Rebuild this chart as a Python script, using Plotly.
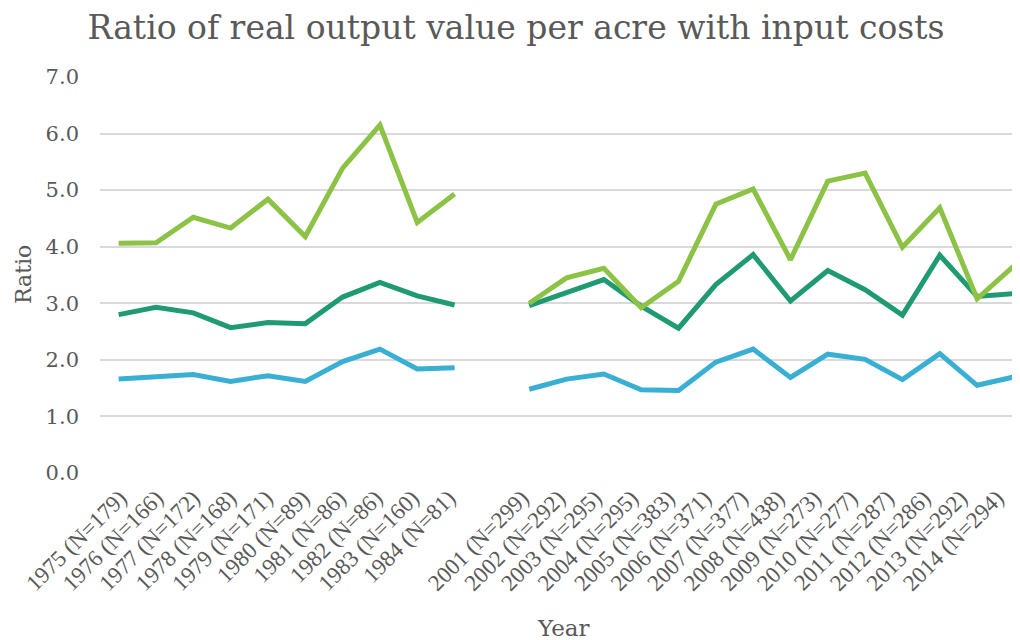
import plotly.graph_objects as go

categories = [
    "1975 (N=179)", "1976 (N=166)", "1977 (N=172)", "1978 (N=168)", "1979 (N=171)",
    "1980 (N=89)", "1981 (N=86)", "1982 (N=86)", "1983 (N=160)", "1984 (N=81)",
    " ",
    "2001 (N=299)", "2002 (N=292)", "2003 (N=295)", "2004 (N=295)", "2005 (N=383)",
    "2006 (N=371)", "2007 (N=377)", "2008 (N=438)", "2009 (N=273)", "2010 (N=277)",
    "2011 (N=287)", "2012 (N=286)", "2013 (N=292)", "2014 (N=294)",
]

upper = [4.06, 4.07, 4.52, 4.33, 4.84, 4.18, 5.39, 6.15, 4.43, 4.93,
         None,
         3.00, 3.45, 3.62, 2.92, 3.39, 4.75, 5.02, 3.77, 5.16, 5.30, 3.99, 4.69, 3.08, 3.67]
middle = [2.80, 2.93, 2.83, 2.57, 2.66, 2.64, 3.11, 3.37, 3.13, 2.97,
          None,
          2.96, 3.19, 3.42, 2.95, 2.56, 3.33, 3.86, 3.04, 3.58, 3.24, 2.79, 3.85, 3.12, 3.17]
lower = [1.66, 1.71, 1.74, 1.62, 1.72, 1.62, 1.97, 2.19, 1.84, 1.86,
         None,
         1.48, 1.66, 1.75, 1.47, 1.46, 1.96, 2.19, 1.69, 2.10, 2.01, 1.65, 2.11, 1.55, 1.70]

series = [
    ("Lower", lower, "#38AFD3"),
    ("Middle", middle, "#1F9A73"),
    ("Upper", upper, "#8CC245"),
]

fig = go.Figure()
for name, vals, color in series:
    fig.add_trace(go.Scatter(
        x=categories, y=vals, name=name, mode="lines",
        line=dict(color=color, width=5, shape="linear"),
        connectgaps=False, showlegend=False,
    ))

# invisible carrier trace for the label axis (labels are packed a bit tighter than the data)
fig.add_trace(go.Scatter(
    x=categories, y=upper, xaxis="x2", mode="lines", opacity=0,
    line=dict(width=0), showlegend=False, hoverinfo="skip",
))

text_color = "#595959"
# page body has an 8px margin, so the figure is drawn 8px in from the top-left
W, H = 1012, 632
L, R, T, B = 92, 0, 69, 167
PW, PH = W - L - R, H - T - B
label_font = dict(family="Liberation Serif", size=23, color=text_color)
fig.update_layout(
    width=W, height=H,
    margin=dict(l=L, r=R, t=T, b=B, autoexpand=False),
    paper_bgcolor="white", plot_bgcolor="white",
    title=dict(
        text="Ratio of real output value per acre with input costs",
        font=dict(family="DejaVu Serif", size=33, color=text_color),
        x=508 / W, xanchor="center", y=1 - 19 / H, yanchor="middle",
        xref="container", yref="container",
    ),
    xaxis=dict(
        type="category", categoryorder="array", categoryarray=categories,
        range=[-0.5, 24.15], automargin=False,
        showticklabels=False,
        showgrid=False, showline=False, zeroline=False, ticks="",
    ),
    xaxis2=dict(
        type="category", categoryorder="array", categoryarray=categories,
        overlaying="x", side="bottom", anchor="y",
        range=[-0.547, 24.63], automargin=False,
        tickangle=-45, tickfont=label_font,
        showgrid=False, showline=False, zeroline=False, ticks="",
        ticklabelstandoff=6,
    ),
    yaxis=dict(
        range=[0, 7], automargin=False,
        tickvals=[0, 1, 2, 3, 4, 5, 6, 7],
        ticktext=["0.0", "1.0", "2.0", "3.0", "4.0", "5.0", "6.0", "7.0"],
        tickfont=dict(family="DejaVu Serif", size=21, color=text_color),
        ticklabelstandoff=20,
        showgrid=True, gridcolor="#D9D9D9", gridwidth=1.5,
        zeroline=False, showline=False, ticks="",
    ),
    annotations=[
        dict(text="Ratio", xref="paper", yref="paper",
             x=(15 - L) / PW, y=(H - B - 267) / PH,
             xanchor="center", yanchor="middle", textangle=-90, showarrow=False,
             font=dict(family="DejaVu Serif", size=22, color=text_color)),
        dict(text="Year", xref="paper", yref="paper",
             x=(555 - L) / PW, y=(H - B - 620) / PH,
             xanchor="center", yanchor="middle", showarrow=False,
             font=dict(family="DejaVu Serif", size=23, color=text_color)),
    ],
)

fig.write_html("out.html")
